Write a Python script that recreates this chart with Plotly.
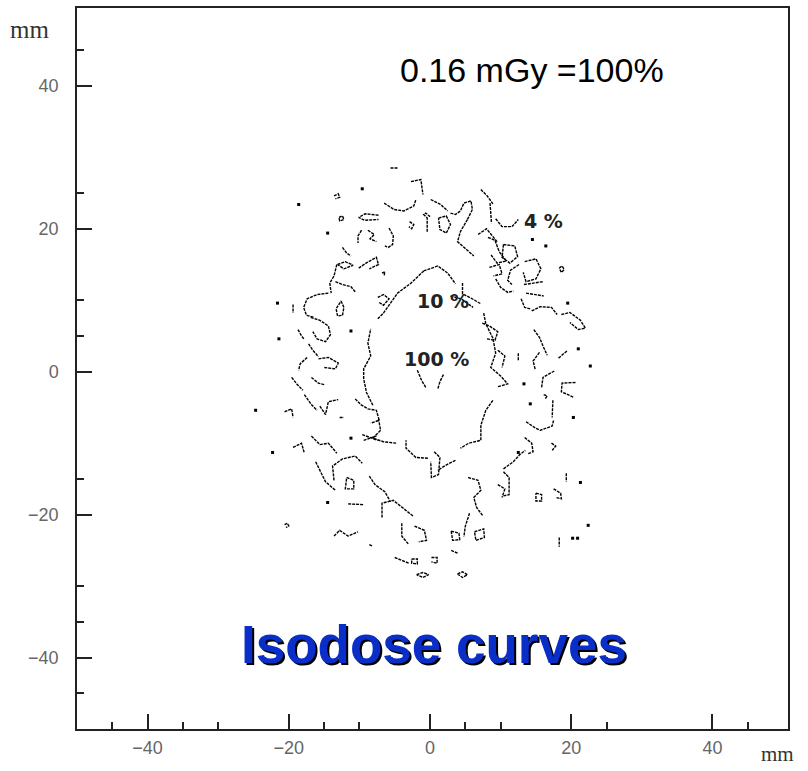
import plotly.graph_objects as go

# ---------------- data (mm) ----------------
major_ticks = [-40, -20, 0, 20, 40]
x_minor_ticks = [-45, -35, -30, -15, -10, 5, 10, 25, 45]
y_minor_ticks = [45, 25, 10, 5, -15, -30, -35, -45]

# 10 % isodose : boundary of the central clear zone (split in broken pieces)
iso10_fragments = [
    [(-0.9, 14.1), (1.1, 14.8), (2.5, 13.8), (3.6, 12.3)],
    [(4.6, 12.4), (4.6, 10.9), (5.8, 10.3), (7.2, 9.5)],
    [(7.6, 8.2), (7.9, 6.7), (8.9, 4.7), (9.3, 2.6), (8.6, 0.6), (10.0, -0.6), (11.0, -1.7), (9.6, -2.1)],
    [(8.9, -4.0), (7.9, -5.4), (7.2, -7.5), (7.2, -9.6), (5.5, -10.0), (4.3, -10.7)],
    [(3.6, -12.4), (2.2, -13.1), (1.1, -13.8)],
    [(-0.3, -12.1), (-2.0, -12.0), (-3.4, -10.7), (-3.4, -9.6)],
    [(-4.8, -10.0), (-6.6, -9.8), (-8.1, -9.3), (-7.0, -8.2), (-7.3, -6.6)],
    [(-8.1, -4.7), (-9.0, -2.9), (-9.4, -1.0), (-9.4, 0.4), (-8.4, 2.2), (-8.8, 4.0), (-8.4, 6.0)],
    [(-7.4, 7.4), (-6.6, 8.2), (-5.6, 9.6), (-4.6, 11.0), (-2.7, 12.4), (-0.9, 14.1)],
]

# 4 % isodose : noisy islands forming the outer band
iso4_fragments = [
    [(-5.6, 28.5), (-4.6, 28.5)],
    [(-2.7, 26.6), (-1.3, 26.9), (-1.0, 24.8)],
    [(-6.5, 23.6), (-5.1, 22.7), (-3.7, 22.5), (-2.3, 23.2), (-2.0, 24.1)],
    [(-13.6, 24.6), (-13.0, 24.9), (-12.8, 24.4), (-13.4, 24.2)],
    [(-12.9, 21.6), (-12.4, 21.8), (-12.2, 21.3), (-12.8, 21.1), (-12.9, 21.6)],
    [(-7.3, 21.9), (-9.2, 22.1), (-10.1, 21.6), (-9.3, 21.2), (-7.3, 21.3)],
    [(-2.9, 21.0), (-2.3, 20.6), (-2.6, 20.0), (-3.0, 20.3)],
    [(-0.4, 19.6), (-0.4, 21.5), (-0.9, 22.0), (-0.6, 22.2), (0.0, 21.7)],
    [(-9.7, 19.8), (-10.2, 19.0), (-10.2, 18.0)],
    [(-8.8, 19.8), (-7.9, 19.2), (-8.5, 18.6), (-7.6, 18.2)],
    [(-5.8, 20.1), (-5.2, 19.0), (-5.3, 17.8), (-5.9, 17.4), (-6.4, 17.6)],
    [(-12.4, 17.4), (-11.8, 16.6), (-11.2, 16.2)],
    [(-13.1, 15.0), (-12.0, 15.4), (-10.9, 14.9), (-12.2, 14.4), (-13.1, 15.0)],
    [(-10.1, 14.5), (-8.9, 15.3), (-7.6, 16.0), (-7.3, 15.0), (-8.6, 14.4)],
    [(-13.2, 15.0), (-13.6, 13.4), (-14.2, 12.4), (-14.0, 11.0)],
    [(-13.4, 12.6), (-12.4, 12.2), (-11.2, 11.9), (-10.6, 11.2)],
    [(-6.8, 13.8), (-6.4, 14.0), (-6.5, 13.4)],
    [(-7.4, 10.4), (-6.6, 10.8), (-5.8, 10.2), (-6.6, 9.3), (-7.2, 9.7)],
    [(-14.4, 11.0), (-16.0, 10.8), (-17.4, 10.2), (-17.9, 9.0), (-17.5, 7.9), (-16.4, 7.6)],
    [(-19.4, 9.4), (-19.4, 8.2)],
    [(-12.6, 9.9), (-12.2, 9.0), (-12.4, 7.9), (-13.1, 7.8), (-13.3, 8.8), (-12.6, 9.9)],
    [(-16.9, 7.6), (-15.6, 7.2), (-14.4, 6.4), (-14.1, 5.2), (-14.8, 4.2), (-16.0, 4.6), (-16.6, 5.6)],
    [(-18.7, 5.9), (-18.2, 5.0), (-17.8, 4.5)],
    [(-17.2, 3.9), (-16.6, 3.0), (-15.8, 2.1)],
    [(-17.4, 2.0), (-18.4, 1.1), (-18.6, 0.2)],
    [(-15.8, 1.8), (-14.4, 2.0), (-13.0, 1.2), (-13.4, 0.4), (-15.0, 0.6)],
    [(0.1, 24.1), (1.5, 23.4), (2.5, 22.5)],
    [(2.9, 22.2), (3.6, 22.0), (4.3, 22.5), (4.8, 23.6), (5.8, 23.9), (6.0, 22.7), (5.3, 21.3)],
    [(7.2, 25.5), (8.1, 24.6), (8.9, 23.5)],
    [(8.5, 23.6), (8.6, 22.0), (8.7, 20.8)],
    [(9.3, 21.4), (10.2, 20.3), (11.6, 20.3), (12.5, 21.3)],
    [(1.2, 21.5), (2.3, 21.8), (2.9, 20.6), (2.3, 19.4), (1.4, 19.9), (1.2, 21.5)],
    [(5.3, 21.3), (4.3, 19.6), (3.9, 18.2), (5.0, 17.3), (6.2, 16.2)],
    [(6.8, 19.2), (8.0, 20.0), (9.5, 18.2)],
    [(8.2, 18.8), (9.2, 18.4), (9.8, 16.8), (10.8, 15.5), (9.5, 15.2), (8.6, 16.4)],
    [(10.4, 17.8), (12.0, 17.6), (12.4, 16.1), (11.3, 15.2), (10.2, 16.0), (10.4, 17.8)],
    [(8.4, 14.6), (9.8, 15.0), (10.2, 13.7), (9.0, 13.4)],
    [(12.6, 15.0), (11.4, 14.2), (11.0, 12.8), (11.6, 12.2)],
    [(13.4, 15.4), (15.0, 15.8), (15.7, 14.4), (15.0, 13.0), (13.6, 12.6), (13.2, 13.9)],
    [(18.3, 14.5), (18.7, 14.8), (19.0, 14.3), (18.6, 13.9), (18.3, 14.5)],
    [(9.3, 13.0), (10.0, 11.8), (11.0, 11.1), (11.8, 11.3)],
    [(13.3, 12.2), (16.0, 12.6)],
    [(13.6, 11.0), (16.1, 10.6)],
    [(12.9, 10.2), (13.4, 9.0), (14.2, 8.8)],
    [(14.4, 8.5), (15.6, 9.1), (17.2, 9.0), (18.0, 8.0)],
    [(18.6, 8.0), (19.8, 8.3), (21.3, 7.2), (22.0, 6.1), (21.0, 5.9), (19.8, 6.9)],
    [(14.7, 5.9), (15.5, 4.8), (16.0, 3.6), (16.6, 2.3)],
    [(18.2, 1.9), (19.5, 3.0)],
    [(9.6, 3.0), (10.6, 2.2), (10.2, 0.6)],
    [(12.5, 2.6), (12.5, 1.5)],
    [(15.5, 2.7), (14.6, 1.5), (14.9, 0.3)],
    [(7.4, 6.8), (8.4, 6.4), (9.6, 5.6), (9.2, 4.4), (8.0, 4.6)],
    [(2.9, 10.6), (4.4, 10.2), (6.1, 9.0)],
    [(17.6, 0.1), (16.0, -0.8), (15.8, -2.2)],
    [(20.6, -1.5), (18.7, -1.6), (18.6, -2.8), (20.4, -3.6)],
    [(17.4, -4.0), (17.3, -6.4)],
    [(13.6, -7.0), (14.8, -7.8), (15.6, -8.2), (17.3, -7.6), (17.5, -6.8)],
    [(13.4, -9.2), (14.4, -10.0), (14.6, -11.2), (13.8, -11.5)],
    [(10.4, -13.6), (11.8, -12.6), (12.7, -11.6), (13.5, -11.0)],
    [(10.4, -14.0), (11.2, -14.8), (11.2, -17.2), (10.3, -17.4)],
    [(15.0, -17.0), (15.8, -17.2), (15.8, -18.1), (15.0, -18.1), (15.0, -17.0)],
    [(17.5, -16.4), (18.5, -17.0), (18.6, -17.8), (17.8, -17.6)],
    [(19.3, -14.2), (19.3, -15.4)],
    [(18.3, -23.2), (18.3, -24.5)],
    [(16.1, -3.2), (16.6, -3.4), (16.3, -3.8)],
    [(17.2, -10.0), (17.8, -10.4), (17.3, -11.0)],
    [(0.6, -11.2), (1.4, -12.0), (1.2, -14.4), (0.2, -14.8), (0.1, -12.6)],
    [(5.4, -14.8), (6.8, -15.2), (7.2, -16.6), (6.2, -17.6), (6.6, -19.0), (7.5, -20.2)],
    [(5.6, -19.8), (5.0, -21.6), (4.8, -23.1)],
    [(6.3, -22.4), (7.6, -22.0), (7.7, -23.2), (6.5, -23.6), (6.3, -22.4)],
    [(3.0, -22.3), (4.1, -22.6), (4.2, -23.5), (3.2, -23.6), (3.0, -22.3)],
    [(3.0, -25.0), (3.9, -25.4)],
    [(3.9, -28.3), (4.6, -28.0), (5.3, -28.4), (4.6, -28.8), (3.9, -28.3)],
    [(0.2, -26.0), (1.0, -26.0), (1.0, -26.8), (0.2, -26.6)],
    [(9.6, -15.8), (10.6, -16.4), (10.2, -17.6)],
    [(-19.6, -0.8), (-18.8, -1.8), (-18.0, -2.6)],
    [(-16.8, -0.8), (-15.8, -1.6), (-15.0, -1.8)],
    [(-17.8, -3.2), (-16.8, -4.6), (-16.0, -5.4)],
    [(-15.6, -4.8), (-14.8, -6.0), (-14.4, -4.2), (-13.0, -3.9)],
    [(-20.6, -5.6), (-19.6, -5.2), (-19.4, -6.4)],
    [(-10.6, -3.8), (-9.8, -4.6), (-8.8, -5.2), (-7.6, -5.4), (-7.2, -6.8), (-8.4, -7.2)],
    [(-12.8, -6.4), (-12.2, -6.4)],
    [(-16.8, -9.0), (-15.6, -10.2), (-14.4, -10.0), (-13.2, -11.4)],
    [(-9.6, -8.8), (-7.4, -9.6)],
    [(-9.4, -9.6), (-7.6, -9.0)],
    [(-19.4, -10.6), (-18.2, -10.0), (-17.8, -11.4)],
    [(-16.2, -12.6), (-15.6, -13.8), (-14.8, -15.4), (-13.4, -16.6)],
    [(-13.6, -15.2), (-13.8, -13.2), (-12.4, -12.2), (-10.6, -11.8), (-9.6, -12.8)],
    [(-11.8, -14.8), (-10.8, -15.2), (-10.8, -16.4), (-12.0, -16.4), (-11.8, -14.8)],
    [(-8.6, -14.6), (-7.8, -15.8), (-6.4, -16.8), (-5.6, -18.2)],
    [(-11.6, -18.5), (-9.4, -18.6)],
    [(-6.8, -20.4), (-6.8, -18.4), (-5.2, -18.0), (-4.0, -19.0), (-2.4, -20.2)],
    [(-20.6, -21.4), (-20.2, -21.2), (-20.0, -21.6), (-20.4, -21.8)],
    [(-13.6, -23.0), (-12.8, -22.2), (-11.6, -23.0), (-10.2, -22.4)],
    [(-8.6, -24.2), (-8.2, -24.4)],
    [(-4.0, -21.2), (-4.0, -23.0), (-3.0, -24.2)],
    [(-2.2, -21.6), (-0.8, -22.2), (-0.5, -23.6), (-1.6, -23.8)],
    [(-5.0, -26.0), (-4.0, -26.4), (-3.0, -26.8)],
    [(-2.6, -26.2), (-1.8, -26.2), (-1.8, -26.9), (-2.6, -26.8), (-2.6, -26.2)],
    [(-1.9, -28.4), (-1.0, -28.1), (-0.2, -28.4), (-1.0, -28.8), (-1.9, -28.4)],
]

# 100 % isodose : tiny arc near the centre
iso100_fragments = [
    [(-1.8, 0.2), (-1.2, -1.2), (-0.6, -2.2)],
    [(1.9, -0.4), (1.4, -1.4), (1.1, -2.4)],
]

# isolated specks of the 4 % level
speck_x = [-9.6, -18.6, -14.5, -21.6, -21.4, -11.2, -24.7, -22.3, -11.2, -14.5,
           14.5, 16.4, 19.5, 21.0, 22.7, 13.3, 14.2, 20.3, 12.5, 21.3, 22.4, 20.2, 20.9]
speck_y = [25.6, 23.4, 19.4, 9.6, 4.6, 5.7, -5.4, -11.3, -9.3, -18.3,
           18.5, 17.6, 9.6, 3.2, 0.8, -1.7, -4.5, -6.4, -11.3, -15.5, -21.5, -23.3, -23.3]

level_labels = ["4 %", "10 %", "100 %"]
level_label_x = [16.1, 1.8, 0.9]
level_label_y = [21.1, 9.9, 1.8]

title_text = "0.16 mGy =100%"
caption_text = "Isodose curves"
axis_unit = "mm"


def flatten(fragments):
    xs, ys = [], []
    for frag in fragments:
        for (x, y) in frag:
            xs.append(x)
            ys.append(y)
        xs.append(None)
        ys.append(None)
    return xs, ys


fig = go.Figure()
line_style = dict(color="black", width=1.4, dash="3px,1px")
for name, frags in [("4 %", iso4_fragments), ("10 %", iso10_fragments), ("100 %", iso100_fragments)]:
    fx, fy = flatten(frags)
    fig.add_trace(go.Scatter(x=fx, y=fy, mode="lines", line=line_style,
                             name=name, hoverinfo="skip", connectgaps=False))
fig.add_trace(go.Scatter(x=speck_x, y=speck_y, mode="markers",
                         marker=dict(color="black", size=3, symbol="square"),
                         hoverinfo="skip"))

axis_common = dict(
    showgrid=False, zeroline=False, showline=True, linecolor="#222", linewidth=1.5,
    mirror=True, ticks="inside", ticklen=15, tickwidth=1.5, tickcolor="#222",
    tickvals=major_ticks, ticktext=["\u221240", "\u221220", "0", "20", "40"],
    tickfont=dict(family="Liberation Sans", size=18, color="#666"),
)
fig.update_xaxes(range=[-50, 50.7], **axis_common, ticklabelstandoff=2,
                 minor=dict(tickvals=x_minor_ticks, ticks="inside", ticklen=7,
                            tickwidth=1.5, tickcolor="#222"))
fig.update_yaxes(range=[-50, 50.9], **axis_common, ticklabelstandoff=13,
                 minor=dict(tickvals=y_minor_ticks, ticks="inside", ticklen=7,
                            tickwidth=1.5, tickcolor="#222"))

annotations = []
for t, x, y in zip(level_labels, level_label_x, level_label_y):
    annotations.append(dict(x=x, y=y, xref="x", yref="y", text="<b>" + t + "</b>",
                            showarrow=False, xanchor="center", yanchor="middle",
                            font=dict(family="DejaVu Sans", size=19, color="#222")))
annotations.append(dict(x=0.64, y=0.914, xref="paper", yref="paper", text=title_text,
                        showarrow=False, xanchor="center", yanchor="middle",
                        font=dict(family="Liberation Sans", size=34, color="black")))
# caption with a dark drop shadow
annotations.append(dict(x=0.5, y=-38.2, xref="x", yref="y", text="<b>" + caption_text + "</b>",
                        showarrow=False, xanchor="center", yanchor="middle",
                        font=dict(family="Liberation Sans", size=53, color="#0a2ec8",
                                  shadow="2px 2px 0px #000")))
annotations.append(dict(x=-0.0675, y=0.9696, xref="paper", yref="paper", text=axis_unit,
                        showarrow=False, xanchor="center", yanchor="middle",
                        font=dict(family="Liberation Serif", size=25, color="#333")))
annotations.append(dict(x=0.985, y=-0.034, xref="paper", yref="paper", text=axis_unit,
                        showarrow=False, xanchor="center", yanchor="middle",
                        font=dict(family="Liberation Serif", size=21, color="#333")))

fig.update_layout(
    width=808, height=771,
    margin=dict(l=77, r=20, t=6, b=42),
    paper_bgcolor="white", plot_bgcolor="white",
    showlegend=False,
    annotations=annotations,
)

fig.write_html("out.html", config={"displayModeBar": False},
               post_script="document.body.style.margin='0px';")
